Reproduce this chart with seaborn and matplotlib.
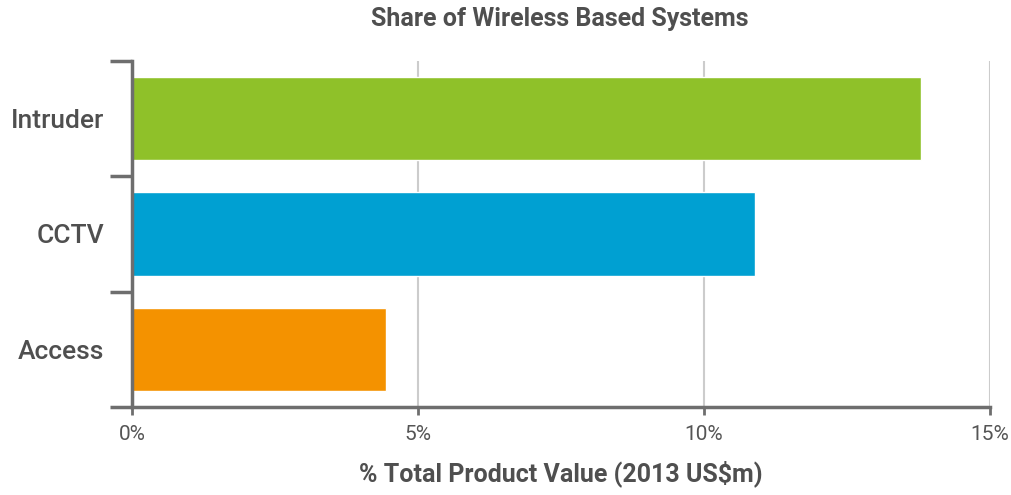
import matplotlib
matplotlib.use("Agg")
import matplotlib.pyplot as plt
import seaborn as sns
import pandas as pd

categories = ["Intruder", "CCTV", "Access"]
shares = [13.8, 10.9, 4.45]
colors = ["#8FC129", "#00A0D2", "#F49200"]
x_ticks = [0, 5, 10, 15]
x_tick_labels = ["0%", "5%", "10%", "15%"]

title = "Share of Wireless Based Systems"
x_label = "% Total Product Value (2013 US$m)"

sns.set_theme(style="white")
plt.rcParams["font.family"] = ["Roboto", "DejaVu Sans"]

df = pd.DataFrame({"category": categories, "share": shares})

fig = plt.figure(figsize=(10.12, 4.95), dpi=100)
ax = fig.add_axes([0.1304, 0.1778, 0.8478, 0.699])

sns.barplot(data=df, x="share", y="category", hue="category",
            palette=colors, orient="h", width=0.72, saturation=1,
            legend=False, ax=ax, zorder=3)

axis_grey = "#6E6E6E"
text_grey = "#4F4F4F"

ax.set_xlim(0, 15)
ax.set_ylim(2.5, -0.5)

# vertical grid lines
for v in x_ticks[1:]:
    ax.axvline(v, color="#CCCCCC", lw=1.5, zorder=1)

ax.set_xticks(x_ticks)
ax.set_xticklabels(x_tick_labels, fontsize=15, color="#555555")
ax.tick_params(axis="x", which="major", direction="out", length=6, width=2,
               color=axis_grey, pad=7, bottom=True)

# category separators as major ticks, names on minor ticks
ax.set_yticks([-0.5, 0.5, 1.5, 2.5])
ax.set_yticklabels([])
ax.set_yticks([0, 1, 2], minor=True)
ax.set_yticklabels(categories, minor=True, fontsize=19, color=text_grey,
                   fontweight="medium")
ax.tick_params(axis="y", which="major", direction="out", length=16, width=2.5,
               color=axis_grey, left=True)
ax.tick_params(axis="y", which="minor", length=0, pad=20)

for side in ["top", "right"]:
    ax.spines[side].set_visible(False)
for side in ["left", "bottom"]:
    ax.spines[side].set_color(axis_grey)
    ax.spines[side].set_linewidth(2.5)
    ax.spines[side].set_zorder(4)

ax.set_ylabel("")
ax.set_xlabel(x_label, fontsize=18, color=text_grey, fontweight="bold",
              labelpad=12)
fig.suptitle(title, x=0.553, y=0.985, fontsize=18, color=text_grey,
             fontweight="bold")

fig.savefig("out.png", dpi=100)
